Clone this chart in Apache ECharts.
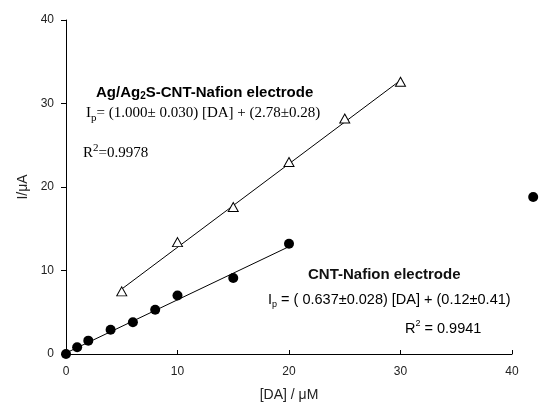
<!DOCTYPE html>
<html>
<head>
<meta charset="utf-8">
<script src="https://cdn.jsdelivr.net/npm/echarts@6/dist/echarts.min.js"></script>
<style>
  html, body { margin: 0; padding: 0; background: #fff; }
  #chart { width: 545px; height: 411px; }
</style>
</head>
<body>
<div id="chart"></div>
<script>
// CNT-Nafion electrode (filled circles)
const cntPoints = [[0, 0], [1, 0.8], [2, 1.6], [4, 2.9], [6, 3.8], [8, 5.3], [10, 7.0], [15, 9.1], [20, 13.2], [41.9, 18.8]]
// Ag/Ag2S-CNT-Nafion electrode (open triangles)
const agPoints = [[5, 7.5], [10, 13.4], [15, 17.6], [20, 23.0], [25, 28.2], [30, 32.6]]
// regression lines, end points
const cntFit = [[0, 0.12], [20, 12.86]]
const agFit = [[5, 7.78], [30, 32.78]]

const xTicks = [0, 10, 20, 30, 40]
const yTicks = [0, 10, 20, 30, 40]

const myChart = echarts.init(document.getElementById('chart'))

const serif = 'Liberation Serif, Times New Roman, serif'
const sans = 'Liberation Sans, Arial, sans-serif'
const labelFont = { fontFamily: sans, fontSize: 12, color: '#222' }

const option = {
    animation: false,
    grid: { left: 66, right: 33, top: 20, bottom: 57 },
    xAxis: {
        type: 'value',
        min: xTicks[0],
        max: xTicks[xTicks.length - 1],
        interval: 10,
        name: '[DA] / μM',
        nameLocation: 'middle',
        nameGap: 34,
        nameTextStyle: { fontFamily: sans, fontSize: 14, color: '#222' },
        axisLine: { lineStyle: { color: '#000', width: 1 } },
        axisTick: { inside: true, length: 4, lineStyle: { color: '#000' } },
        axisLabel: { ...labelFont, margin: 12 },
        splitLine: { show: false }
    },
    yAxis: {
        type: 'value',
        min: yTicks[0],
        max: yTicks[yTicks.length - 1],
        interval: 10,
        name: 'I/μA',
        nameLocation: 'middle',
        nameGap: 30,
        nameTextStyle: { fontFamily: sans, fontSize: 14, color: '#222' },
        axisLine: { show: true, lineStyle: { color: '#000', width: 1 } },
        axisTick: { show: true, length: 5, lineStyle: { color: '#000' } },
        axisLabel: { ...labelFont, margin: 12 },
        splitLine: { show: false }
    },
    series: [
        {
            type: 'line',
            data: agFit,
            symbol: 'none',
            lineStyle: { color: '#000', width: 1 },
            z: 2
        },
        {
            type: 'line',
            data: cntFit,
            symbol: 'none',
            lineStyle: { color: '#000', width: 1 },
            z: 2
        },
        {
            type: 'scatter',
            data: agPoints,
            symbol: 'triangle',
            symbolSize: [10, 9],
            itemStyle: { color: '#fff', borderColor: '#000', borderWidth: 1, opacity: 1 },
            z: 3
        },
        {
            type: 'scatter',
            data: cntPoints,
            symbol: 'circle',
            symbolSize: 10,
            clip: false,
            itemStyle: { color: '#000', opacity: 1 },
            z: 3
        }
    ],
    graphic: [
        {
            type: 'text', left: 96, top: 85,
            style: { text: '{a|Ag/Ag}{s|2}{a|S-CNT-Nafion electrode}', rich: {
                a: { fontFamily: sans, fontWeight: 'bold', fontSize: 15, color: '#111', lineHeight: 18 },
                s: { fontFamily: sans, fontWeight: 'bold', fontSize: 10, color: '#111', lineHeight: 13, verticalAlign: 'bottom' }
            } }
        },
        {
            type: 'text', left: 86, top: 106,
            style: { text: '{a|I}{s|p}{a|= (1.000± 0.030) [DA] + (2.78±0.28)}', rich: {
                a: { fontFamily: serif, fontSize: 15, color: '#222', lineHeight: 20 },
                s: { fontFamily: serif, fontSize: 11, color: '#222', lineHeight: 14, verticalAlign: 'bottom' }
            } }
        },
        {
            type: 'text', left: 83, top: 143,
            style: { text: '{a|R}{s|2}{a|=0.9978}', rich: {
                a: { fontFamily: serif, fontSize: 15, color: '#222', lineHeight: 20 },
                s: { fontFamily: serif, fontSize: 11, color: '#222', lineHeight: 14, verticalAlign: 'top' }
            } }
        },
        {
            type: 'text', left: 308, top: 267,
            style: { text: 'CNT-Nafion electrode', fontFamily: sans, fontWeight: 'bold', fontSize: 15, fill: '#111' }
        },
        {
            type: 'text', left: 268, top: 292,
            style: { text: '{a|I}{s|p}{a| = ( 0.637±0.028) [DA] + (0.12±0.41)}', rich: {
                a: { fontFamily: sans, fontSize: 14.5, color: '#111', lineHeight: 19 },
                s: { fontFamily: sans, fontSize: 9, color: '#111', lineHeight: 12, verticalAlign: 'bottom' }
            } }
        },
        {
            type: 'text', left: 405, top: 319,
            style: { text: '{a|R}{s|2}{a| = 0.9941}', rich: {
                a: { fontFamily: sans, fontSize: 14.5, color: '#111', lineHeight: 19 },
                s: { fontFamily: sans, fontSize: 9, color: '#111', lineHeight: 12, verticalAlign: 'top' }
            } }
        }
    ]
}
option && myChart.setOption(option)
</script>
</body>
</html>
